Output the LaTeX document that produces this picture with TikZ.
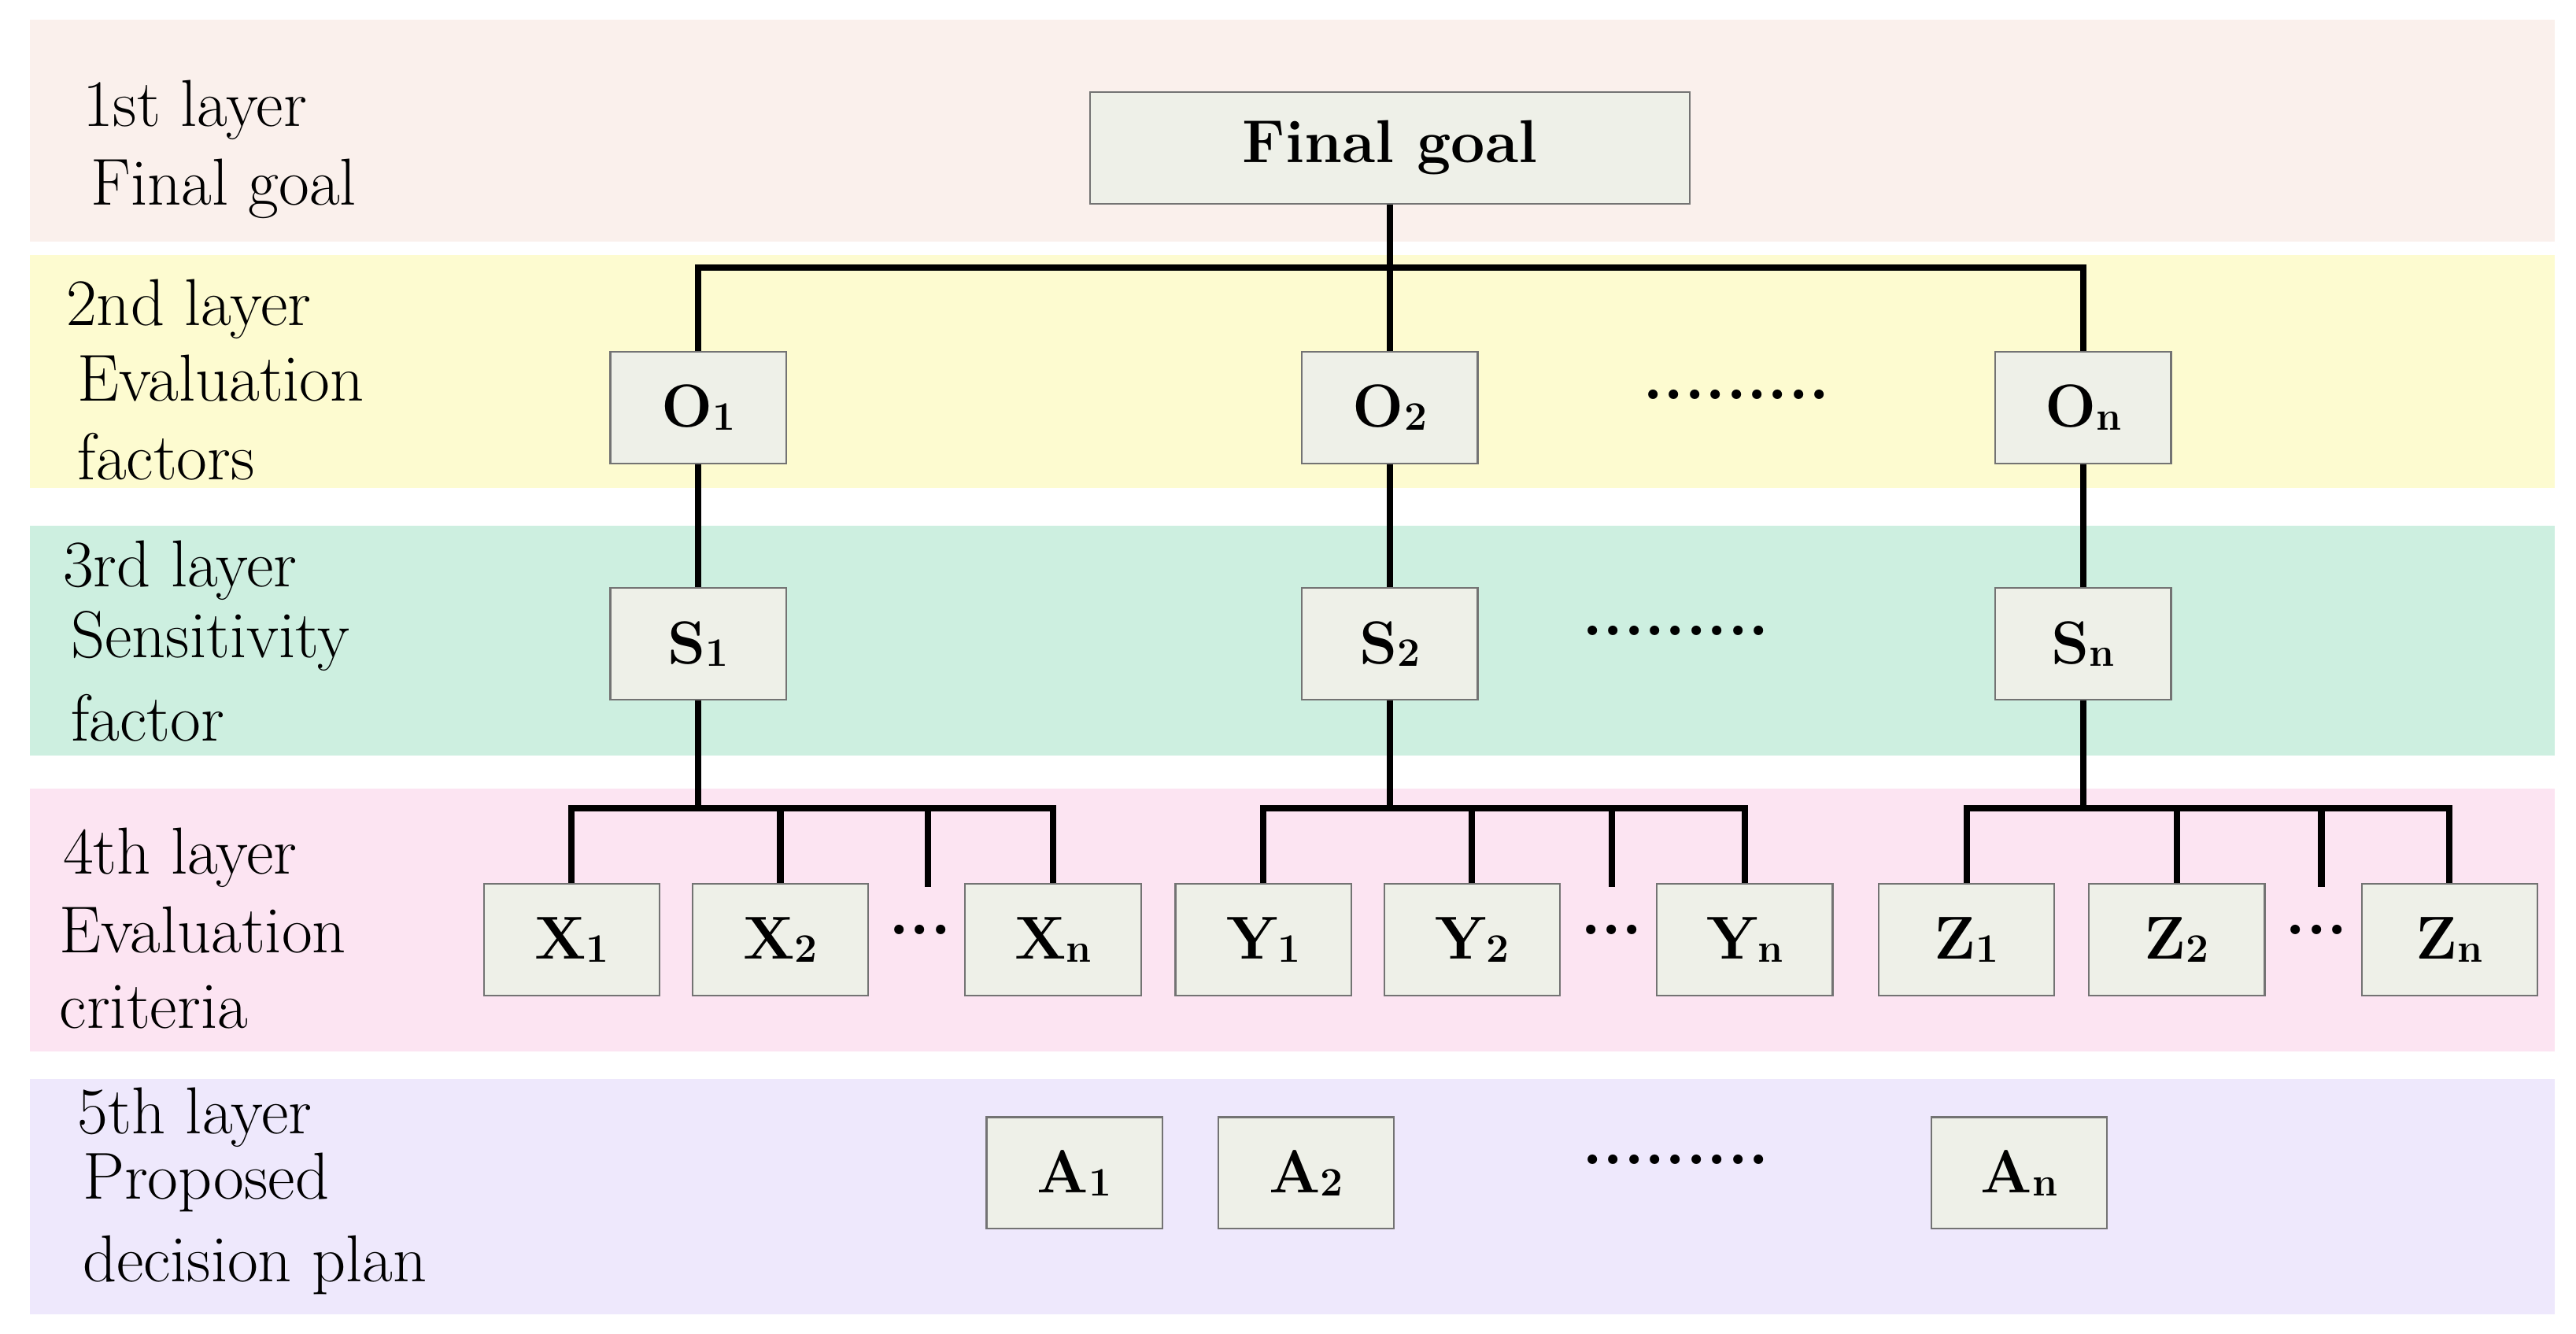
\documentclass[tikz,border=0pt]{standalone}
\definecolor{bA}{RGB}{250,240,236}
\definecolor{bB}{RGB}{253,251,208}
\definecolor{bC}{RGB}{205,239,224}
\definecolor{bD}{RGB}{252,228,242}
\definecolor{bE}{RGB}{238,232,252}
\definecolor{bxf}{RGB}{238,240,232}
\begin{document}
\begin{tikzpicture}[x=0.02cm,y=-0.02cm,
 box/.style={draw=black!55,fill=bxf,line width=0.6pt,minimum width=2.14cm,minimum height=1.36cm,inner sep=0pt,font=\fontsize{21}{24}\selectfont\bfseries},
 lab/.style={anchor=west,inner sep=0pt,font=\fontsize{23}{26}\selectfont},
 con/.style={line width=2.2pt},
 dots/.style={font=\fontsize{23}{26}\selectfont\bfseries}]
\newcommand{\sbx}[1]{{\fontsize{14}{16}\selectfont\raisebox{-0.15ex}{#1}}}
\useasboundingbox (0,0) rectangle (1568,812);
\fill[white] (0,0) rectangle (1568,812);
\fill[bA] (18,12) rectangle (1555,147);
\fill[bB] (18,155) rectangle (1555,297);
\fill[bC] (18,320) rectangle (1555,460);
\fill[bD] (18,480) rectangle (1555,640);
\fill[bE] (18,657) rectangle (1555,800);
% labels
\node[lab] (l1a) at (50,67) {1st layer};
\node[lab] (l1b) at (55,115) {Final goal};
\node[lab] (l2a) at (40,188) {2nd layer};
\node[lab] (l2b) at (47,230) {Evaluation};
\node[lab] (l2c) at (47,278) {factors};
\node[lab] (l3a) at (38,347) {3rd layer};
\node[lab] (l3b) at (43,390) {Sensitivity};
\node[lab] (l3c) at (43,437) {factor};
\node[lab] (l4a) at (38,522) {4th layer};
\node[lab] (l4b) at (36,566) {Evaluation};
\node[lab] (l4c) at (36,613) {criteria};
\node[lab] (l5a) at (47,680) {5th layer};
\node[lab] (l5b) at (50,720) {Proposed};
\node[lab] (l5c) at (50,770) {decision plan};
% boxes
\node[box,minimum width=7.3cm] (fg) at (846,90) {Final goal};
\node[box] (o1) at (425,248) {O\sbx{1}};
\node[box] (o2) at (846,248) {O\sbx{2}};
\node[box] (on) at (1268,248) {O\sbx{n}};
\node[box] (s1) at (425,392) {S\sbx{1}};
\node[box] (s2) at (846,392) {S\sbx{2}};
\node[box] (sn) at (1268,392) {S\sbx{n}};
\node[box] (x1) at (348,572) {X\sbx{1}};
\node[box] (x2) at (475,572) {X\sbx{2}};
\node[box] (xn) at (641,572) {X\sbx{n}};
\node[box] (y1) at (769,572) {Y\sbx{1}};
\node[box] (y2) at (896,572) {Y\sbx{2}};
\node[box] (yn) at (1062,572) {Y\sbx{n}};
\node[box] (z1) at (1197,572) {Z\sbx{1}};
\node[box] (z2) at (1325,572) {Z\sbx{2}};
\node[box] (zn) at (1491,572) {Z\sbx{n}};
\node[box] (a1) at (654,714) {A\sbx{1}};
\node[box] (a2) at (795,714) {A\sbx{2}};
\node[box] (an) at (1229,714) {A\sbx{n}};
% dots
\node[dots] (d1) at (1057,240) {.........};
\node[dots] (d2) at (1020,384) {.........};
\node[dots] (d3) at (1020,706) {.........};
\node[dots] (dx) at (560,566) {...};
\node[dots] (dy) at (981,566) {...};
\node[dots] (dz) at (1410,566) {...};
% connectors
\coordinate (j0) at (846,163);
\draw[con] (fg.south) -- (j0);
\draw[con] (o1.north) |- (j0) -| (on.north);
\draw[con] (j0) -- (o2.north);
\draw[con] (o1) -- (s1); \draw[con] (o2) -- (s2); \draw[con] (on) -- (sn);
\foreach \s/\a/\b/\c/\t in {s1/x1/x2/xn/565,s2/y1/y2/yn/981,sn/z1/z2/zn/1413}{
  \coordinate (t\s) at (\t,492);
  \coordinate (e\s) at (\t,540);
  \draw[con] (\s.south) -- (\s.south|-t\s);
  \draw[con] (\a.north) |- (t\s) -| (\c.north);
  \draw[con] (\b.north) -- (\b.north|-t\s);
  \draw[con] (t\s) -- (e\s);
}
\end{tikzpicture}
\end{document}
